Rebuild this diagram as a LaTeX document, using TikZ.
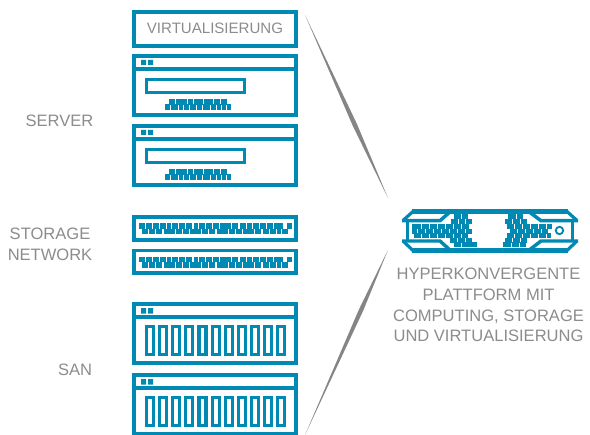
\documentclass[tikz,border=0pt]{standalone}
\usepackage{fontspec}
\setmainfont{Liberation Sans}
\definecolor{tealblue}{HTML}{0089B2}
\definecolor{txtgray}{HTML}{8C8C8C}
\definecolor{wedgegray}{HTML}{858585}
\tikzset{
  px/.style={x=0.75pt,y=-0.75pt},
  frame/.style={draw=tealblue,line width=2.8pt,fill=white},
  bar/.style={draw=tealblue,line width=2.9pt},
  thinframe/.style={draw=tealblue,line width=2.5pt,fill=white},
  lbl/.style={text=txtgray,font=\fontsize{12.4}{15.6}\selectfont,align=center,inner sep=0pt},
  wedge/.style={fill=wedgegray,draw=none}
}
% list of x0/x1 blocks between y0 and y1
\newcommand{\blocks}[3]{\foreach \aa/\bb in {#1}{\fill[tealblue] (\aa,#2) rectangle (\bb,#3);}}
\newcommand{\serverbox}[1]{%
  \begin{scope}[yshift=#1*-0.75pt]
    \draw[frame] (134,56) rectangle (296,115.3);
    \draw[bar] (132,68.7) -- (298,68.7);
    \fill[tealblue] (141,60) rectangle (146,65) (148,60) rectangle (153,65);
    \draw[thinframe] (146.7,79.7) rectangle (244.3,92.3);
    \blocks{169.3/175,175.7/186.7,187.7/193.3,194.3/202.7,203.7/213,214/220,221/226.7}{99}{104.6}
    \blocks{165/170,170.7/178,179/183,184/189,190/196,197/202,203/210,211/216,217/221,222/226,227/231}{104.4}{110}
  \end{scope}}
\newcommand{\switchbox}[1]{%
  \begin{scope}[yshift=#1*-0.75pt]
    \draw[frame] (134,217) rectangle (296,239.8);
    \blocks{139/145,145.7/151.7,152.7/158.7,160/166,167/170.7,171.7/177.7,179/185,186/192,194/198,199/205,206/212,213/218.7,219.7/225.7,226.3/231.3,232.3/238,240/246,246.5/252,252.5/259,260/266,266.7/273,273.7/283,286.7/292}{223}{228.8}
    \blocks{142/148.3,149/155,156/162,164/175,176/182,183/189,190/201,202/208,209/215,217/228,229/235,236/242,243/254,255/261,263/269,270/276,277/281,282/288}{228.6}{234}
  \end{scope}}
\newcommand{\sanbox}[1]{%
  \begin{scope}[yshift=#1*-0.75pt]
    \draw[frame] (134,304) rectangle (296,363.3);
    \draw[bar] (132,317) -- (298,317);
    \fill[tealblue] (141,308) rectangle (146,313.5) (148,308) rectangle (153,313.5);
    \foreach \ii in {0,...,10}{
      \draw[tealblue,line width=2.3pt] ({146.5+\ii*13.13},326.5) rectangle ({153.5+\ii*13.13},354.5);
    }
  \end{scope}}
\begin{document}
\begin{tikzpicture}[px]
\useasboundingbox[fill=white] (0,0) rectangle (590,435);
% wedges
\fill[wedge] (305,15) -- (356.9,123.9) -- (388,198) -- (352.7,125.7) -- cycle;
\fill[wedge] (305,435) -- (363.1,310.9) -- (388,250) -- (359.1,309.1) -- cycle;
% boxes
\node[draw=tealblue,line width=2.8pt,minimum width=121.5pt,minimum height=25.5pt,inner sep=0pt,text=txtgray,font=\fontsize{11.3}{14}\selectfont] (virt) at (215,28.7) {VIRTUALISIERUNG};
\serverbox{0}
\serverbox{70}
\switchbox{0}
\switchbox{33.5}
\sanbox{0}
\sanbox{71}
% labels
\node[lbl] (server) at (59.5,121) {SERVER};
\node[lbl] (storage) at (50,244.5) {STORAGE\\NETWORK};
\node[lbl] (san) at (75,369.5) {SAN};
\node[lbl] (hyper) at (488.5,305) {HYPERKONVERGENTE\\PLATTFORM MIT\\COMPUTING, STORAGE\\UND VIRTUALISIERUNG};
% platform icon
\begin{scope}
\draw[tealblue,line width=2.4pt,line join=miter] (403,220.5) -- (413,211.5);
\draw[tealblue,line width=2.4pt,line join=miter] (577,220.5) -- (567,211.5);
\draw[tealblue,line width=2.4pt,line join=miter] (403,241) -- (413,250.5);
\draw[tealblue,line width=2.4pt,line join=miter] (577,241) -- (567,250.5);
\draw[tealblue,line width=3.2pt] (412,211.5) -- (568,211.5);
\draw[tealblue,line width=3.2pt] (412,250.5) -- (568,250.5);
\draw[tealblue,line width=2.6pt] (402,220.7) -- (440,220.7) -- (451,211);
\draw[tealblue,line width=2.6pt] (402,241) -- (440,241) -- (451,251);
\draw[tealblue,line width=2.6pt] (578,220.7) -- (541,220.7) -- (528,211);
\draw[tealblue,line width=2.6pt] (578,241) -- (541,241) -- (528,251);
\draw[tealblue,line width=2pt] (407.5,220.7) -- (407.5,241);
\draw[tealblue,line width=2pt] (572.5,220.7) -- (572.5,241);
\blocks{454/460.5,461.5/468}{214}{219.2}
\blocks{451/457.5,458.5/465,466/472}{219}{224.2}
\blocks{412/420.5,421.5/428.5,429.5/436.5,437.5/444.5,445.5/452.5,453.5/460.5,461.5/469}{224}{229}
\blocks{412/416.5,418/424.5,425.5/432.5,433.5/440.5,441.5/448.5,449.5/456.5,457.5/464.5,465.5/472}{228.8}{233.6}
\blocks{414/420.5,421.5/428.5,429.5/436.5,437.5/444.5,445.5/452.5,453.5/460.5,461.5/468}{233.4}{238.2}
\blocks{450/456.5,457.5/464.5,465.5/472}{238}{242.6}
\blocks{454/460.5,461.5/477}{242.4}{247}
\blocks{508/515.5,516.5/523}{214}{219.2}
\blocks{505/511.5,512.5/519.5,520.5/527}{219}{224.2}
\blocks{507/513.5,514.5/521.5,522.5/529.5,530.5/537.5,538.5/545.5,546.5/552}{224}{229}
\blocks{510/516.5,517.5/524.5,525.5/532.5,533.5/540.5,541.5/548}{228.8}{233.6}
\blocks{507/513.5,514.5/521.5,522.5/529.5,530.5/537.5,538.5/545.5,546.5/551}{233.4}{238.2}
\blocks{505/511.5,512.5/519.5,520.5/527}{238}{242.6}
\blocks{503/510.5,511.5/518.5,519.5/526}{242.4}{247}
\draw[tealblue,line width=1.4pt] (559.5,230.5) circle (3.7);
\end{scope}
\end{tikzpicture}
\end{document}
